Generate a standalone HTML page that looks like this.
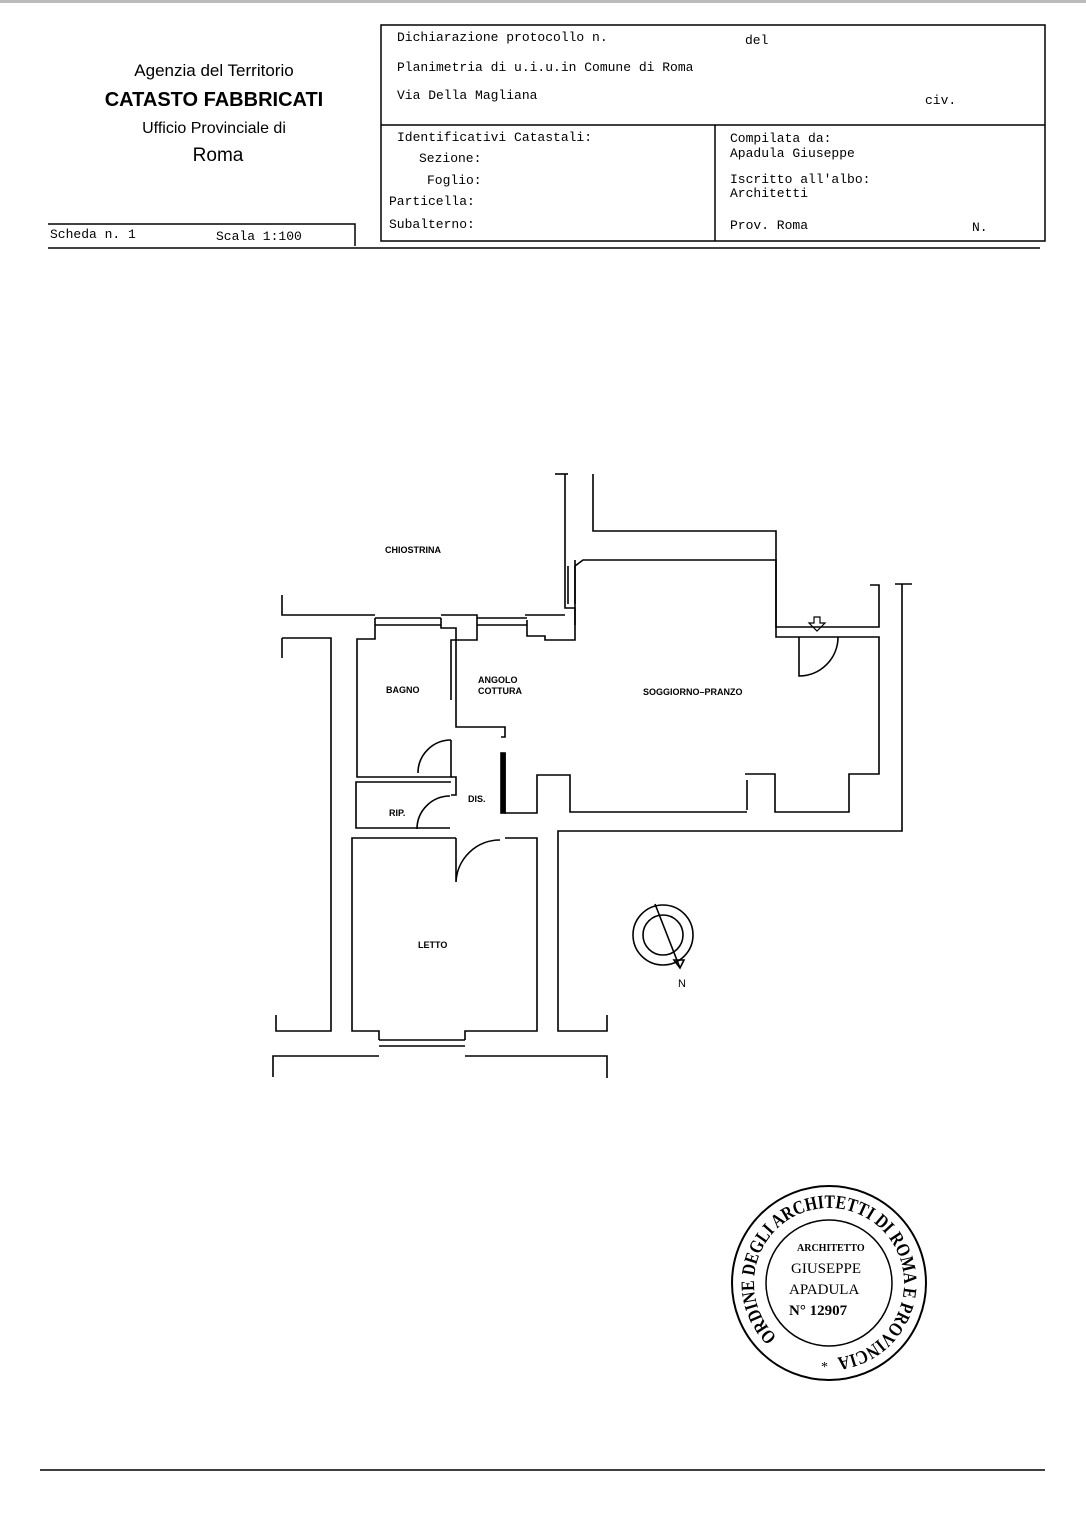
<!DOCTYPE html>
<html><head><meta charset="utf-8"><style>
html,body{margin:0;padding:0;background:#fff;}
body{width:1086px;height:1536px;position:relative;overflow:hidden;}
svg{position:absolute;left:0;top:0;}
</style></head><body>
<svg width="1086" height="1536" viewBox="0 0 1086 1536" xmlns="http://www.w3.org/2000/svg">
<rect x="0" y="0" width="1086" height="3" fill="#bbb"/>
<g font-family="Liberation Sans, sans-serif" text-anchor="middle" fill="#000">
<text x="214" y="76" font-size="17">Agenzia del Territorio</text>
<text x="214" y="106" font-size="20" font-weight="bold">CATASTO FABBRICATI</text>
<text x="214" y="133" font-size="16">Ufficio Provinciale di</text>
<text x="218" y="161" font-size="19">Roma</text>
</g>
<g stroke="#000" fill="none" stroke-width="1.5">
<rect x="381" y="25" width="664" height="216"/>
<line x1="381" y1="125" x2="1045" y2="125"/>
<line x1="715" y1="125" x2="715" y2="241"/>
<polyline points="48,224 355,224 355,246"/>
<line x1="48" y1="248" x2="1040" y2="248"/>
<line x1="40" y1="1470" x2="1045" y2="1470"/>
</g>
<g font-family="Liberation Mono, monospace" font-size="13" fill="#000">
<text x="397" y="41">Dichiarazione protocollo n.</text>
<text x="745" y="44">del</text>
<text x="397" y="71">Planimetria di u.i.u.in Comune di Roma</text>
<text x="397" y="99">Via Della Magliana</text>
<text x="925" y="104">civ.</text>
<text x="397" y="141">Identificativi Catastali:</text>
<text x="419" y="162">Sezione:</text>
<text x="427" y="184">Foglio:</text>
<text x="389" y="205">Particella:</text>
<text x="389" y="228">Subalterno:</text>
<text x="730" y="142">Compilata da:</text>
<text x="730" y="157">Apadula Giuseppe</text>
<text x="730" y="183">Iscritto all'albo:</text>
<text x="730" y="197">Architetti</text>
<text x="730" y="229">Prov. Roma</text>
<text x="972" y="231">N.</text>
<text x="50" y="238">Scheda n. 1</text>
<text x="216" y="240">Scala 1:100</text>
</g>
<g stroke="#000" fill="none" stroke-width="1.6">
<polyline points="282,595 282,615 375,615"/>
<polyline points="375,618 375,639 357,639 357,777 451,777 451,740"/>
<polyline points="441,615 477,615 477,640 451,640 451,700"/>
<polyline points="441,618 441,628 456,628 456,727 505,727 505,737 501,737"/>
<polyline points="525,615 565,615"/>
<polyline points="565,474 565,608 575,608 575,640 545,640 545,636 527,636 527,620"/>
<line x1="555" y1="474" x2="568" y2="474"/>
<line x1="375" y1="618" x2="441" y2="618"/><line x1="375" y1="625" x2="441" y2="625"/>
<line x1="477" y1="618" x2="527" y2="618"/><line x1="477" y1="625" x2="527" y2="625"/>
<line x1="568" y1="566" x2="568" y2="604"/><line x1="575" y1="566" x2="575" y2="604"/>
<polyline points="593,474 593,531 776,531 776,627 879,627 879,585 870,585"/>
<polyline points="575,566 583,560 776,560 776,637 799,637"/>
<polyline points="843,637 879,637 879,774 849,774 849,812 775,812 775,774 745,774"/>
<line x1="747" y1="780" x2="747" y2="810"/>
<polyline points="747,812 570,812 570,775 537,775 537,813 505,813 505,753"/>
<rect x="501" y="753" width="4" height="60" fill="#000"/>
<polyline points="902,584 902,831 558,831 558,1031 607,1031 607,1015"/>
<line x1="895" y1="584" x2="912" y2="584"/>
<line x1="575" y1="625" x2="575" y2="560"/>
<line x1="799" y1="637" x2="843" y2="637"/>
<path d="M799,637 L799,676 A39,39 0 0 0 838,637"/>
<path d="M814,617 h6 v6 h5 l-8,8 l-8,-8 h5 z" stroke-width="1.2"/>
<polyline points="282,638 282,658"/>
<polyline points="282,638 331,638 331,1031 276,1031 276,1015"/>
<polyline points="451,782 356,782 356,828 450,828"/>
<path d="M451,777 L456,777 L456,795 L451,795"/>
<path d="M418,773 A33,33 0 0 1 451,740"/>
<path d="M417,829 A33,33 0 0 1 450,796"/>
<polyline points="456,838 352,838 352,1031 379,1031 379,1040"/>
<polyline points="465,1040 465,1031 537,1031 537,838 505,838"/>
<path d="M456,838 L456,882 A44,44 0 0 1 500,840"/>
<line x1="379" y1="1040" x2="465" y2="1040"/><line x1="379" y1="1046" x2="465" y2="1046"/>
<polyline points="273,1077 273,1056 379,1056"/>
<polyline points="465,1056 607,1056 607,1078"/>
<circle cx="663" cy="935" r="30"/>
<circle cx="663" cy="935" r="20"/>
<line x1="655" y1="904" x2="680" y2="968"/>
<path d="M680,968 L674,960 L684,960 z"/>
</g>
<g font-family="Liberation Sans, sans-serif" font-size="9" fill="#000" font-weight="bold">
<text x="385" y="553">CHIOSTRINA</text>
<text x="386" y="693">BAGNO</text>
<text x="478" y="683">ANGOLO</text>
<text x="478" y="694">COTTURA</text>
<text x="643" y="695">SOGGIORNO–PRANZO</text>
<text x="389" y="816">RIP.</text>
<text x="468" y="802">DIS.</text>
<text x="418" y="948">LETTO</text>
<text x="678" y="987" font-size="11" font-weight="normal">N</text>
</g>
<g transform="translate(829,1283)" fill="#000">
<circle r="97" fill="none" stroke="#000" stroke-width="2"/>
<circle r="63" fill="none" stroke="#000" stroke-width="1.5"/>
<defs><path id="ring" d="M-52,54 A75,75 0 1 1 52,54 A75,75 0 0 1 -52,54"/></defs>
<text font-family="Liberation Serif, serif" font-size="19" font-weight="bold"><textPath href="#ring" textLength="405" lengthAdjust="spacingAndGlyphs">ORDINE DEGLI ARCHITETTI DI ROMA E PROVINCIA</textPath></text>
<text x="-8" y="88" font-size="14" font-family="Liberation Serif, serif">*</text>
<text font-family="Liberation Serif, serif" font-size="10" x="-32" y="-32" font-weight="bold">ARCHITETTO</text>
<text font-family="Liberation Serif, serif" font-size="15" x="-38" y="-10">GIUSEPPE</text>
<text font-family="Liberation Serif, serif" font-size="15" x="-40" y="11">APADULA</text>
<text font-family="Liberation Serif, serif" font-size="15" x="-40" y="32" font-weight="bold">N° 12907</text>
</g>
</svg>
</body></html>
